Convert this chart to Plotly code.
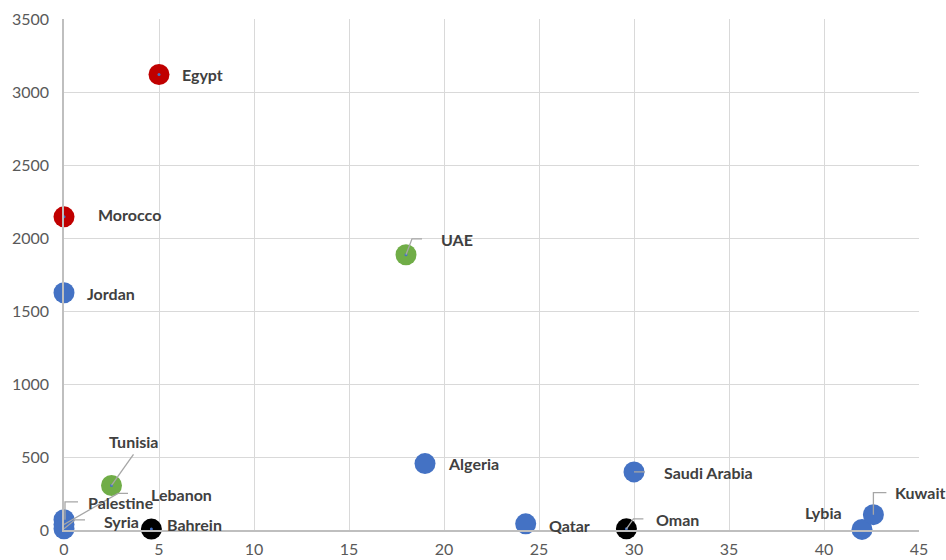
import plotly.graph_objects as go

# ---- data ----
countries = ["Egypt", "Morocco", "Jordan", "UAE", "Tunisia", "Algeria", "Saudi Arabia",
             "Qatar", "Oman", "Bahrein", "Lybia", "Kuwait", "Palestine", "Lebanon", "Syria"]
x_vals = [5.0, 0.0, 0.0, 18.0, 2.5, 19.0, 30.0, 24.3, 29.6, 4.6, 42.0, 42.6, 0.0, 0.0, 0.0]
y_vals = [3120, 2145, 1625, 1885, 305, 455, 398, 42, 8, 6, 4, 105, 70, 38, 8]
groups = ["red", "red", "blue", "green", "green", "blue", "blue",
          "blue", "black", "black", "blue", "blue", "blue", "blue", "blue"]
x_ticks = list(range(0, 50, 5))
y_ticks = list(range(0, 4000, 500))

# ---- styles ----
palette = {"red": "#C00000", "blue": "#4472C4", "green": "#70AD47", "black": "#000000"}
# label placement in pixels relative to the point: (xshift, yshift, xanchor)
label_style = {
    "Egypt": (21, 0, "left"),
    "Morocco": (32, 2, "left"),
    "Jordan": (21, -1, "left"),
    "Algeria": (21, 0, "left"),
    "Qatar": (21, -2, "left"),
    "Bahrein": (14, 5, "left"),
    "Lybia": (-18, 17, "right"),
    "Saudi Arabia": (28, -1, "left"),
    "UAE": (33, 15, "left"),
    "Tunisia": (22, 44, "center"),
    "Lebanon": (85, 30, "left"),
    "Palestine": (22, 17, "left"),
    "Syria": (38, 7, "left"),
    "Oman": (28, 9, "left"),
    "Kuwait": (20, 22, "left"),
}
# leader line polylines, pixel offsets from the point (y up)
leaders = {
    "Saudi Arabia": [(0, 0), (11, 0)],
    "UAE": [(0, 0), (6, 16), (16, 16)],
    "Tunisia": [(0, 0), (22, 31)],
    "Lebanon": [(0, 0), (54, 31), (64, 31)],
    "Palestine": [(1, 0), (1, 18), (14, 18)],
    "Syria": [(0, 0), (11, 9), (21, 9)],
    "Oman": [(0, 0), (7, 10), (17, 10)],
    "Kuwait": [(0, 0), (0, 22), (13, 22)],
}
center_dot = {"Egypt", "Morocco", "UAE", "Tunisia", "Bahrein", "Oman"}

FONT = "Lato, 'Open Sans', sans-serif"
fig = go.Figure()
fig.add_trace(go.Scatter(
    x=x_vals, y=y_vals, mode="markers",
    marker=dict(size=21, color=[palette[g] for g in groups], line=dict(width=0)),
    cliponaxis=False, hoverinfo="text", text=countries, showlegend=False))
dx = [x for c, x in zip(countries, x_vals) if c in center_dot]
dy = [y for c, y in zip(countries, y_vals) if c in center_dot]
fig.add_trace(go.Scatter(x=dx, y=dy, mode="markers",
                         marker=dict(size=3, color="#4472C4"),
                         cliponaxis=False, hoverinfo="skip", showlegend=False))

annotations = []
shapes = []
for c, x, y in zip(countries, x_vals, y_vals):
    xs, ys, anc = label_style[c]
    annotations.append(dict(x=x, y=y, xref="x", yref="y", text="<b>%s</b>" % c,
                            showarrow=False, xanchor=anc, yanchor="middle",
                            xshift=xs, yshift=ys,
                            font=dict(family=FONT, size=16, color="#404040", weight="bold")))
    if c in leaders:
        pts = leaders[c]
        path = "M%g,%g " % pts[0] + " ".join("L%g,%g" % p for p in pts[1:])
        shapes.append(dict(type="path", xref="x", yref="y", xsizemode="pixel",
                           ysizemode="pixel", xanchor=x, yanchor=y, path=path,
                           line=dict(color="#A6A6A6", width=1.3), layer="above"))

tickfont = dict(family=FONT, size=16, color="#595959")
fig.update_layout(
    width=946, height=560,
    margin=dict(l=64, r=27, t=19, b=30),
    paper_bgcolor="white", plot_bgcolor="white",
    annotations=annotations, shapes=shapes,
    xaxis=dict(range=[0, 45], tickvals=x_ticks, showgrid=True, gridcolor="#D9D9D9",
               gridwidth=1, zeroline=False, showline=True, linecolor="#BFBFBF",
               linewidth=1.5, ticks="", ticklabelstandoff=4, tickfont=tickfont,
               automargin=False),
    yaxis=dict(range=[0, 3500], tickvals=y_ticks, showgrid=True, gridcolor="#D9D9D9",
               gridwidth=1, zeroline=False, showline=True, linecolor="#BFBFBF",
               linewidth=1.5, ticks="", ticklabelstandoff=10, tickfont=tickfont,
               automargin=False),
)

fig.write_html("out.html")
